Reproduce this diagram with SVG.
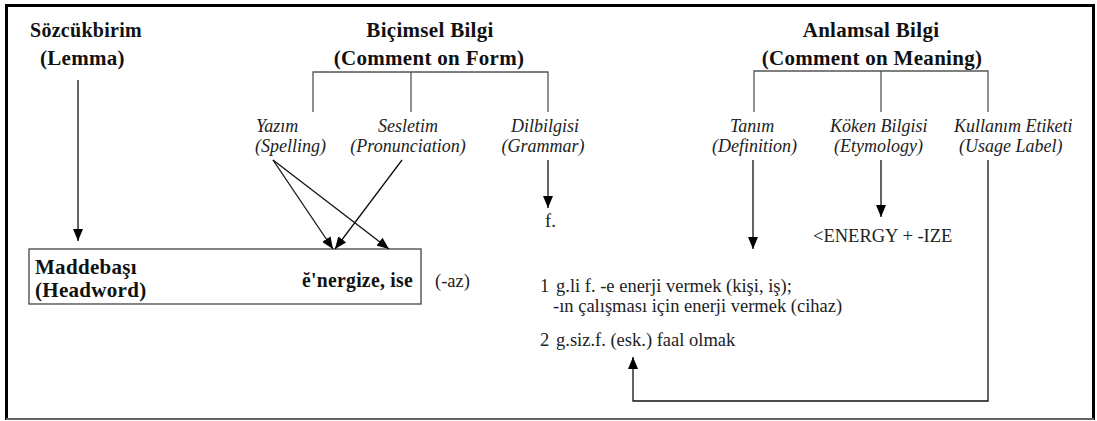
<svg xmlns="http://www.w3.org/2000/svg" width="1097" height="421" viewBox="0 0 1097 421">
<style>
text{font-family:'Liberation Serif','Times New Roman',serif}
.title{font-weight:bold;font-size:21px;fill:#111;letter-spacing:0.3px}
.lab{font-style:italic;font-size:18px;fill:#222}
.txt{font-size:18.5px;fill:#222}
.br{stroke:#555;stroke-width:1.3;fill:none}
.con{stroke:#111;stroke-width:1.3;fill:none}
.arr{marker-end:url(#ah)}
</style>
<defs>
<marker id="ah" viewBox="0 0 12 10" refX="12" refY="5" markerWidth="12" markerHeight="10" markerUnits="userSpaceOnUse" orient="auto">
<path d="M0,0 L12,5 L0,10 z" fill="#000"/>
</marker>
</defs>
<rect width="1097" height="421" fill="#fff"/>
<g id="frame">
<line x1="6.5" y1="4" x2="6.5" y2="420" stroke="#000" stroke-width="3"/>
<line x1="5" y1="5.5" x2="1095" y2="5.5" stroke="#000" stroke-width="3"/>
<line x1="1093.5" y1="4" x2="1093.5" y2="420" stroke="#000" stroke-width="3"/>
<line x1="6" y1="419" x2="1094" y2="419" stroke="#666" stroke-width="2"/>
</g>
<g id="lemma">
<text class="title" x="30" y="37" textLength="112" lengthAdjust="spacingAndGlyphs">Sözcükbirim</text>
<text class="title" x="40" y="65">(Lemma)</text>
</g>
<g id="form">
<text class="title" x="430" y="37" text-anchor="middle">Biçimsel Bilgi</text>
<text class="title" x="429" y="65" text-anchor="middle">(Comment on Form)</text>
</g>
<g id="meaning">
<text class="title" x="871" y="37" text-anchor="middle">Anlamsal Bilgi</text>
<text class="title" x="872" y="65" text-anchor="middle">(Comment on Meaning)</text>
</g>
<g id="spelling">
<text class="lab" x="256" y="132">Yazım</text>
<text class="lab" x="255" y="152">(Spelling)</text>
</g>
<g id="pronunciation">
<text class="lab" x="408" y="132" text-anchor="middle">Sesletim</text>
<text class="lab" x="408" y="152" text-anchor="middle">(Pronunciation)</text>
</g>
<g id="grammar">
<text class="lab" x="545" y="132" text-anchor="middle">Dilbilgisi</text>
<text class="lab" x="543" y="152" text-anchor="middle">(Grammar)</text>
</g>
<g id="definition">
<text class="lab" x="730" y="132">Tanım</text>
<text class="lab" x="712" y="152">(Definition)</text>
</g>
<g id="etymology">
<text class="lab" x="830" y="132">Köken Bilgisi</text>
<text class="lab" x="834" y="152">(Etymology)</text>
</g>
<g id="usage">
<text class="lab" x="954" y="132">Kullanım Etiketi</text>
<text class="lab" x="959" y="152">(Usage Label)</text>
</g>
<g id="headword">
<rect x="29" y="249" width="392" height="55" fill="none" stroke="#444" stroke-width="1.3"/>
<text class="title" x="35" y="274" letter-spacing="0.5">Maddebaşı</text>
<text class="title" x="35" y="297" letter-spacing="0.5">(Headword)</text>
<text class="title" x="302" y="287" font-size="20" textLength="111" lengthAdjust="spacingAndGlyphs">ĕ'nergize, ise</text>
</g>
<g id="az">
<text class="txt" x="435" y="287" font-size="21">(-az)</text>
</g>
<g id="f">
<text class="txt" x="545" y="227" font-size="22">f.</text>
</g>
<g id="etym-value">
<text class="txt" x="813" y="242" font-size="17.5">&lt;ENERGY + -IZE</text>
</g>
<g id="senses">
<text class="txt" x="540" y="292">1</text>
<text class="txt" x="556" y="292">g.li f. -e enerji vermek (kişi, iş);</text>
<text class="txt" x="553" y="312">-ın çalışması için enerji vermek (cihaz)</text>
<text class="txt" x="540" y="346">2</text>
<text class="txt" x="556" y="346">g.siz.f. (esk.) faal olmak</text>
</g>
<g id="connectors">
<polyline class="br" points="313,112 313,72 548,72 548,112"/>
<line class="br" x1="411" y1="72" x2="411" y2="112"/>
<polyline class="br" points="754,112 754,71 988,71 988,112"/>
<line class="br" x1="881" y1="71" x2="881" y2="112"/>
<line class="con arr" x1="78" y1="80" x2="78" y2="241"/>
<line class="con arr" x1="273" y1="160" x2="333" y2="249"/>
<line class="con arr" x1="273" y1="160" x2="389" y2="249"/>
<line class="con arr" x1="402" y1="160" x2="335" y2="249"/>
<line class="con arr" x1="548" y1="160" x2="548" y2="208"/>
<line class="con arr" x1="753" y1="160" x2="753" y2="249"/>
<line class="con arr" x1="881" y1="160" x2="881" y2="217"/>
<polyline class="con arr" points="988,160 988,401 633,401 633,357"/>
</g>
</svg>
